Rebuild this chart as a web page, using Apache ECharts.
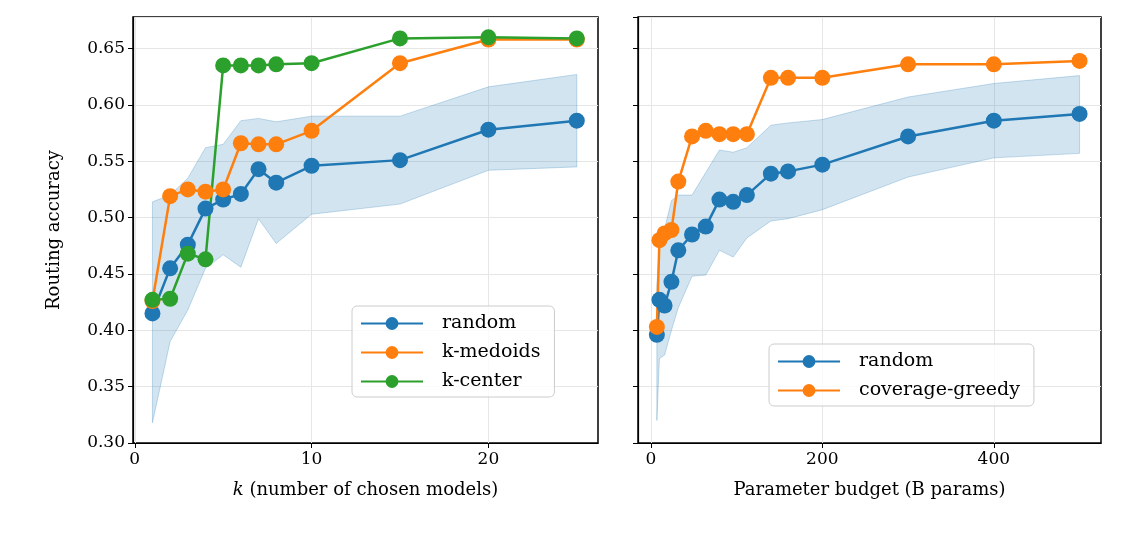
<!DOCTYPE html>
<html><head><meta charset="utf-8">
<script src="https://cdn.jsdelivr.net/npm/echarts@6/dist/echarts.min.js"></script>
<style>html,body{margin:0;background:#fff}#c{width:1121px;height:543px}</style>
</head><body><div id="c"></div>
<script>
const kVals = [1,2,3,4,5,6,7,8,10,15,20,25];
const kRandom = [0.415,0.455,0.476,0.508,0.516,0.521,0.543,0.531,0.546,0.551,0.578,0.586];
const kMedoids = [0.426,0.519,0.525,0.523,0.525,0.566,0.565,0.565,0.577,0.637,0.658,0.658];
const kCenter = [0.427,0.428,0.468,0.463,0.635,0.635,0.635,0.636,0.637,0.659,0.660,0.659];
const kBandUp = [0.514,0.520,0.535,0.562,0.565,0.586,0.588,0.585,0.590,0.590,0.616,0.627];
const kBandLo = [0.318,0.390,0.418,0.455,0.467,0.456,0.499,0.477,0.503,0.512,0.542,0.545];

const pVals = [7,10,16,24,32,48,64,80,96,112,140,160,200,300,400,500];
const pRandom = [0.396,0.427,0.422,0.443,0.471,0.485,0.492,0.516,0.514,0.520,0.539,0.541,0.547,0.572,0.586,0.592];
const pGreedy = [0.403,0.480,0.486,0.489,0.532,0.572,0.577,0.574,0.574,0.574,0.624,0.624,0.624,0.636,0.636,0.639];
const pBandUp = [0.440,0.475,0.490,0.515,0.520,0.520,0.540,0.560,0.558,0.562,0.582,0.584,0.587,0.607,0.619,0.626];
const pBandLo = [0.320,0.375,0.378,0.400,0.420,0.448,0.449,0.471,0.465,0.482,0.497,0.499,0.507,0.536,0.553,0.557];

const kTicks = [0,10,20];
const pTicks = [0,200,400];

const BLUE='#1f77b4', ORANGE='#ff7f0e', GREEN='#2ca02c';
const FONT='DejaVu Serif';
const chart = echarts.init(document.getElementById('c'));
function pairs(xs, ys){ return xs.map((x,i)=>[x,ys[i]]); }
function band(xi, xs, up, lo){
  return {type:'custom', xAxisIndex:xi, yAxisIndex:xi, silent:true, z:1,
    data:[[0]],
    renderItem:(params, api)=>{
      const pts=[];
      xs.forEach((x,i)=>pts.push(api.coord([x,up[i]])));
      for(let i=xs.length-1;i>=0;i--) pts.push(api.coord([xs[i],lo[i]]));
      return {type:'polygon', shape:{points:pts}, style:{fill:'rgba(31,119,180,0.2)', stroke:'rgba(31,119,180,0.25)', lineWidth:1}};
    }};
}
function line(xi, name, xs, ys, color){
  return {type:'line', name, xAxisIndex:xi, yAxisIndex:xi, data:pairs(xs,ys), symbol:'circle', symbolSize:16,
    lineStyle:{color, width:2.5}, itemStyle:{color}, z:3, animation:false};
}
function xAx(gi, min, max, ticks, name){
  return {type:'value', gridIndex:gi, min, max,
    axisLine:{onZero:false, lineStyle:{color:'#000', width:1.2}},
    axisTick:{length:5, lineStyle:{color:'#000'}, customValues:ticks},
    axisLabel:{color:'#000', fontFamily:FONT, fontSize:17, customValues:ticks, margin:8},
    splitLine:{show:true, lineStyle:{color:'#e6e6e6'}},
    name, nameLocation:'middle', nameGap:38, nameTextStyle:{color:'#000', fontFamily:FONT, fontSize:18, rich:{i:{fontStyle:'italic', fontFamily:FONT, fontSize:18}}}};
}
function yAx(gi, showLabel, name){
  return {type:'value', gridIndex:gi, min:0.30, max:0.678, interval:0.05,
    axisLine:{onZero:false, lineStyle:{color:'#000', width:1.2}},
    axisLabel:{show:showLabel, color:'#000', fontFamily:FONT, fontSize:17, showMaxLabel:false, formatter:v=>v.toFixed(2)},
    axisTick:{length:5, lineStyle:{color:'#000'}},
    splitLine:{show:true, lineStyle:{color:'#e6e6e6'}},
    name, nameLocation:'middle', nameGap:70, nameTextStyle:{color:'#000', fontFamily:FONT, fontSize:18}};
}
const legBase = {orient:'vertical', itemWidth:62, itemHeight:16, itemGap:10,
  backgroundColor:'rgba(255,255,255,0.8)', borderColor:'#cccccc', borderWidth:1, borderRadius:5, padding:[8,14,6,8],
  textStyle:{fontFamily:FONT, fontSize:19, color:'#000', padding:[0,0,0,14]}, selectedMode:false};
chart.setOption({
  animation:false,
  grid:[{left:133, top:17, width:465, height:426, show:true, borderColor:'#000', borderWidth:1.5},
        {left:638, top:17, width:463, height:426, show:true, borderColor:'#000', borderWidth:1.5}],
  xAxis:[xAx(0,-0.1,26.2,kTicks,'{i|k} (number of chosen models)'), xAx(1,-15,525,pTicks,'Parameter budget (B params)')],
  yAxis:[yAx(0,true,'Routing accuracy'), yAx(1,false,'')],
  legend:[
    Object.assign({}, legBase, {data:['random','k-medoids','k-center'], left:352, top:306}),
    Object.assign({}, legBase, {data:['random ','coverage-greedy'], left:769, top:344})
  ],
  series:[
    band(0,kVals,kBandUp,kBandLo),
    line(0,'random',kVals,kRandom,BLUE),
    line(0,'k-medoids',kVals,kMedoids,ORANGE),
    line(0,'k-center',kVals,kCenter,GREEN),
    band(1,pVals,pBandUp,pBandLo),
    line(1,'random ',pVals,pRandom,BLUE),
    line(1,'coverage-greedy',pVals,pGreedy,ORANGE)
  ]
});
</script></body></html>
